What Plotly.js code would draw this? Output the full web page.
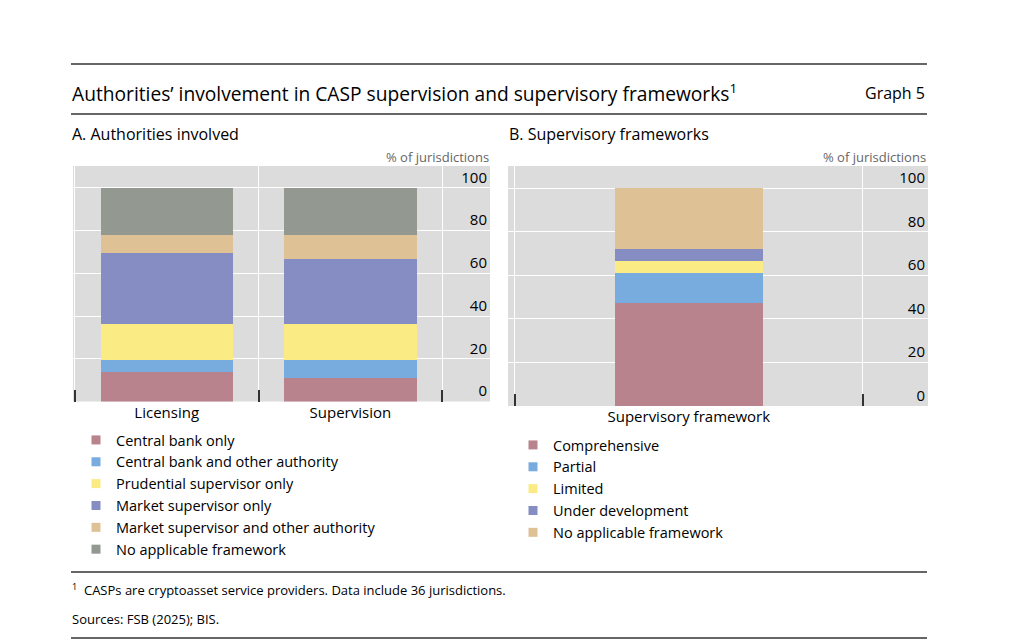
<!DOCTYPE html>
<html>
<head>
<meta charset="utf-8">
<script src="https://cdn.plot.ly/plotly-3.0.1.min.js"></script>
<style>
  html, body { margin: 0; padding: 0; background: #ffffff; }
  #chart { width: 1024px; height: 644px; }
</style>
</head>
<body>
<div id="chart"></div>
<script>
// Panel A: which authorities are involved (share of 36 jurisdictions, %)
const categoriesA = ["Licensing", "Supervision"];
const seriesNamesA = [
  "Central bank only",
  "Central bank and other authority",
  "Prudential supervisor only",
  "Market supervisor only",
  "Market supervisor and other authority",
  "No applicable framework"
];
const centralBankOnly = [13.9, 11.1];
const centralBankAndOther = [5.6, 8.3];
const prudentialOnly = [16.7, 16.7];
const marketOnly = [33.3, 30.6];
const marketAndOther = [8.3, 11.1];
const noFrameworkA = [22.2, 22.2];
const valuesA = [centralBankOnly, centralBankAndOther, prudentialOnly, marketOnly, marketAndOther, noFrameworkA];

// Panel B: type of supervisory framework (%)
const categoriesB = ["Supervisory framework"];
const seriesNamesB = ["Comprehensive", "Partial", "Limited", "Under development", "No applicable framework"];
const comprehensive = [47.2];
const partial = [13.9];
const limited = [5.6];
const underDevelopment = [5.6];
const noFrameworkB = [27.8];
const valuesB = [comprehensive, partial, limited, underDevelopment, noFrameworkB];

const yTicks = [0, 20, 40, 60, 80, 100];

const colorsA = ["#B8838D", "#78ACDE", "#FAEB85", "#858DC2", "#DEC194", "#939891"];
const colorsB = ["#B8838D", "#78ACDE", "#FAEB85", "#858DC2", "#DEC194"];

const FONT = "Open Sans, Noto Sans, sans-serif";

const traces = [];
// stacked bars (legend keys are drawn by small square markers below)
seriesNamesA.forEach((name, i) => {
  traces.push({
    type: "bar", name: name, x: categoriesA, y: valuesA[i],
    xaxis: "x", yaxis: "y", width: 0.72,
    marker: { color: colorsA[i], line: { width: 0 } },
    showlegend: false, hoverinfo: "name+y"
  });
});
seriesNamesB.forEach((name, i) => {
  traces.push({
    type: "bar", name: name, x: categoriesB, y: valuesB[i],
    xaxis: "x2", yaxis: "y2", width: 0.425,
    marker: { color: colorsB[i], line: { width: 0 } },
    showlegend: false, hoverinfo: "name+y"
  });
});
// legend keys: small squares in the series colours
seriesNamesA.forEach((name, i) => {
  traces.push({
    type: "scatter", mode: "markers", name: name, x: [null], y: [null],
    xaxis: "x", yaxis: "y",
    marker: { symbol: "square", size: 9, color: colorsA[i] },
    legend: "legend", hoverinfo: "skip"
  });
});
seriesNamesB.forEach((name, i) => {
  traces.push({
    type: "scatter", mode: "markers", name: name, x: [null], y: [null],
    xaxis: "x2", yaxis: "y2",
    marker: { symbol: "square", size: 9, color: colorsB[i] },
    legend: "legend2", hoverinfo: "skip"
  });
});

const W = 1024, H = 644;
const px = v => v / W;          // horizontal pixel -> paper
const py = v => 1 - v / H;      // vertical pixel (from top) -> paper

const xCommon = {
  type: "category",
  tickson: "boundaries",
  ticks: "inside", ticklen: 12, tickwidth: 2, tickcolor: "#333333",
  showgrid: true, gridcolor: "#ffffff", gridwidth: 1,
  zeroline: false, showline: false, fixedrange: true,
  tickfont: { family: FONT, size: 15, color: "#000000" }
};
const yCommon = {
  range: [0, 110.2],
  tickvals: yTicks,
  side: "right",
  ticks: "", ticklabelposition: "inside top",
  showgrid: true, gridcolor: "#ffffff", gridwidth: 1,
  zeroline: false, showline: false, fixedrange: true,
  tickfont: { family: FONT, size: 15, color: "#000000" }
};

const legendCommon = {
  xanchor: "left", yanchor: "top",
  traceorder: "normal", bgcolor: "rgba(0,0,0,0)",
  font: { family: FONT, size: 14.5, color: "#000000" },
  itemwidth: 30, tracegroupgap: 0
};

const layout = {
  width: W, height: H,
  margin: { l: 0, r: 0, t: 0, b: 0 },
  paper_bgcolor: "#ffffff",
  plot_bgcolor: "#DCDCDC",
  barmode: "stack",
  bargap: 0,
  showlegend: true,
  font: { family: FONT, size: 15, color: "#000000" },
  xaxis: Object.assign({}, xCommon, { domain: [px(73), px(490)], range: [-0.51, 1.76], anchor: "y" }),
  yaxis: Object.assign({}, yCommon, { domain: [py(401.5), py(166)], anchor: "x" }),
  xaxis2: Object.assign({}, xCommon, { domain: [px(508), px(928)], range: [-0.52, 0.688], anchor: "y2" }),
  yaxis2: Object.assign({}, yCommon, { domain: [py(406), py(166)], anchor: "x2" }),
  legend: Object.assign({}, legendCommon, { x: px(76), y: py(424) }),
  legend2: Object.assign({}, legendCommon, { x: px(513), y: py(429) }),
  shapes: [64, 114, 572, 638].map(yy => ({
    type: "line", xref: "paper", yref: "paper",
    x0: px(71), x1: px(927), y0: py(yy), y1: py(yy),
    line: { color: "#333333", width: 1.5 }
  })),
  annotations: [
    { text: "Authorities’ involvement in CASP supervision and supervisory frameworks<sup>1</sup>",
      x: px(70), y: py(93), xanchor: "left", yanchor: "middle",
      font: { family: FONT, size: 19.2, color: "#000000" } },
    { text: "Graph 5", x: px(927), y: py(93), xanchor: "right", yanchor: "middle",
      font: { family: FONT, size: 16, color: "#000000" } },
    { text: "A. Authorities involved", x: px(70), y: py(134), xanchor: "left", yanchor: "middle",
      font: { family: FONT, size: 16, color: "#000000" } },
    { text: "B. Supervisory frameworks", x: px(507), y: py(134), xanchor: "left", yanchor: "middle",
      font: { family: FONT, size: 16, color: "#000000" } },
    { text: "% of jurisdictions", x: px(491), y: py(157), xanchor: "right", yanchor: "middle",
      font: { family: FONT, size: 13, color: "#666666" } },
    { text: "% of jurisdictions", x: px(928), y: py(157), xanchor: "right", yanchor: "middle",
      font: { family: FONT, size: 13, color: "#666666" } },
    { text: "<sup>1</sup>  CASPs are cryptoasset service providers. Data include 36 jurisdictions.",
      x: px(70), y: py(589), xanchor: "left", yanchor: "middle",
      font: { family: FONT, size: 13, color: "#000000" } },
    { text: "Sources: FSB (2025); BIS.", x: px(70), y: py(619), xanchor: "left", yanchor: "middle",
      font: { family: FONT, size: 13, color: "#000000" } }
  ].map(a => Object.assign({ xref: "paper", yref: "paper", showarrow: false }, a))
};

Plotly.newPlot("chart", traces, layout, { displayModeBar: false, staticPlot: true });
</script>
</body>
</html>
